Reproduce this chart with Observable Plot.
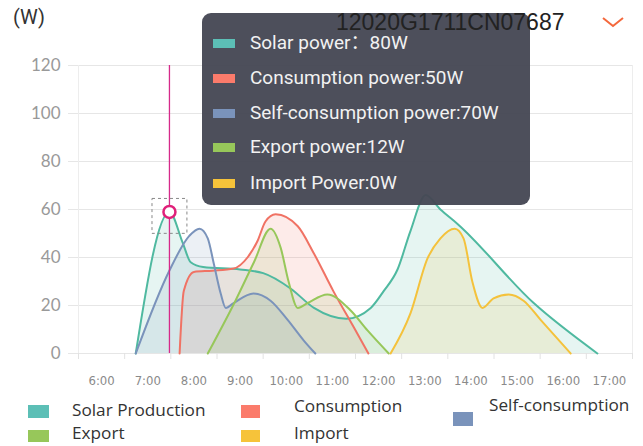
<!DOCTYPE html>
<html>
<head>
<meta charset="utf-8">
<script src="https://cdn.jsdelivr.net/npm/d3@7"></script>
<script src="https://cdn.jsdelivr.net/npm/@observablehq/plot@0.6"></script>
<style>
  html, body { margin: 0; padding: 0; background: #fff; }
  #wrap { position: relative; width: 643px; height: 446px; overflow: hidden; }
  #chart { position: absolute; left: 0; top: 0; }
  .abs { position: absolute; white-space: nowrap; }
  .tip { position: absolute; left: 202px; top: 13px; width: 328px; height: 192px; border-radius: 9px; background: rgba(70,72,84,0.96); }
  .tiprow { position: absolute; left: 0; height: 24px; line-height: 24px; font-family: Roboto, "Noto Sans CJK SC", sans-serif; font-size: 19px; color: #f2f2f2; white-space: nowrap; }
  .tiprow .sw { position: absolute; left: 11px; top: 8px; width: 22px; height: 9px; }
  .tiprow .tx { position: absolute; left: 48px; top: 0; }
  .leg { position: absolute; font-family: "Open Sans", sans-serif; font-size: 17.2px; color: #333; line-height: 14px; white-space: nowrap; }
  .legsw { position: absolute; }
</style>
</head>
<body>
<div id="wrap">
  <div id="chart"></div>
</div>
<script>
// ---- data ----
const seriesNames = ["Solar Production", "Consumption", "Self-consumption", "Export", "Import"];
const seriesColors = ["#4fb9a0", "#f07264", "#7a93bb", "#97c75a", "#f4c23c"];
const legendColors = ["#5cbfb6", "#fb7b6b", "#7a93bb", "#97c75a", "#f6c33a"];

const solarHours = [6.74, 7.47, 7.76, 7.93, 8.2, 9.0, 9.5, 10.1, 10.6, 11.3, 11.83, 12.11, 12.41, 12.69, 13.02, 13.34, 13.71, 15.36, 16.74];
const solarValues = [0, 59, 46, 38, 36, 35, 33.5, 27, 19, 14.5, 19, 26, 35, 51, 66, 60, 54, 21, 0];

const consHours = [7.69, 7.78, 8.0, 8.4, 8.86, 9.16, 9.38, 9.55, 9.77, 10.25, 10.59, 11.02, 11.46, 11.78];
const consValues = [0, 26, 34, 34.5, 35.4, 40, 47, 55, 58, 53, 42, 26, 11, 0];

const selfHours = [6.74, 7.47, 7.9, 8.12, 8.3, 8.43, 8.58, 8.69, 8.86, 9.29, 9.66, 10.03, 10.38, 10.63];
const selfValues = [0, 34.6, 49, 52, 48, 37.5, 25, 19, 21, 25, 22, 14, 5.4, 0];

const exportHours = [8.3, 8.9, 9.3, 9.66, 9.88, 10.05, 10.25, 10.46, 10.89, 11.39, 11.76, 12.22];
const exportValues = [0, 22, 38, 52, 44, 30, 19, 21, 24.6, 18, 9.6, 0];

const importHours = [12.26, 12.69, 13.06, 13.34, 13.65, 13.84, 14.03, 14.25, 14.49, 14.82, 15.14, 15.51, 16.16];
const importValues = [0, 16.7, 39.6, 48, 52, 48, 30, 19, 23, 24.6, 22, 14, 0];

const xTickHours = [6, 7, 8, 9, 10, 11, 12, 13, 14, 15, 16, 17];
const xTickLabels = ["6:00", "7:00", "8:00", "9:00", "10:00", "11:00", "12:00", "13:00", "14:00", "15:00", "16:00", "17:00"];
const yTicks = [0, 20, 40, 60, 80, 100, 120];

const cursorIndex = 1; // solar point under the cursor
const tooltipLabels = ["Solar power：80W", "Consumption power:50W", "Self-consumption power:70W", "Export power:12W", "Import Power:0W"];
const titleUnit = "(W)";
const deviceId = "12020G1711CN07687";

// ---- build tables ----
const toRows = (hs, vs) => hs.map((h, i) => ({h, v: vs[i]}));
const series = [
  toRows(solarHours, solarValues),
  toRows(consHours, consValues),
  toRows(selfHours, selfValues),
  toRows(exportHours, exportValues),
  toRows(importHours, importValues)
];
const edges = xTickHours.map(h => h - 0.5).concat([xTickHours[xTickHours.length - 1] + 0.5]);
const cursor = [series[0][cursorIndex]];

const marks = [
  Plot.gridY(yTicks, {stroke: "#e6e6e6", strokeOpacity: 1}),
  Plot.ruleX([edges[0], edges[edges.length - 1]], {stroke: "#ededed"}),
  Plot.axisY({ticks: yTicks, label: null, tickSize: 10, tickPadding: 8, stroke: "#e6e6e6", fill: "#999", fontSize: 17, fontFamily: "Lato, sans-serif"}),
  Plot.axisX({ticks: edges, label: null, tickSize: 6, tickFormat: () => "", stroke: "#e2e2e2"}),
  Plot.axisX({ticks: xTickHours, label: null, tickSize: 0, tickPadding: 22, tickFormat: d => xTickLabels[xTickHours.indexOf(d)], fill: "#8a8a8a", fontSize: 13, fontFamily: "DejaVu Sans Condensed, sans-serif"})
];
series.forEach((rows, k) => {
  marks.push(Plot.areaY(rows, {x: "h", y: "v", fill: seriesColors[k], fillOpacity: 0.14, curve: "monotone-x"}));
});
series.forEach((rows, k) => {
  marks.push(Plot.line(rows, {x: "h", y: "v", stroke: seriesColors[k], strokeWidth: 2, curve: "monotone-x"}));
});
marks.push(Plot.ruleX(cursor, {x: "h", stroke: "#d62a8a", strokeWidth: 1.3}));
marks.push(Plot.dot(cursor, {x: "h", y: "v", symbol: "square", r: 19.7, dy: 4, fill: "none", stroke: "#888", strokeWidth: 1, strokeDasharray: "3,3"}));
marks.push(Plot.dot(cursor, {x: "h", y: "v", r: 6, fill: "white", stroke: "#e0207a", strokeWidth: 2.5}));

const chart = Plot.plot({
  width: 643,
  height: 446,
  marginLeft: 78,
  marginRight: 11,
  marginTop: 65,
  marginBottom: 93,
  x: {domain: [edges[0], edges[edges.length - 1]], axis: null, label: null},
  y: {domain: [0, 120], axis: null, label: null},
  style: {background: "transparent", overflow: "visible"},
  marks
});
document.getElementById("chart").appendChild(chart);

// ---- overlays: title, tooltip, header id, legend ----
const wrap = document.getElementById("wrap");
function el(tag, cls, css, text) {
  const e = document.createElement(tag);
  if (cls) e.className = cls;
  Object.assign(e.style, css || {});
  if (text != null) e.textContent = text;
  return e;
}
wrap.appendChild(el("div", "abs", {left: "13px", top: "5px", fontFamily: "Roboto, sans-serif", fontSize: "20px", color: "#333"}, titleUnit));

const tip = el("div", "tip");
const rowTops = [18, 53, 88, 122, 158];
tooltipLabels.forEach((t, i) => {
  const r = el("div", "tiprow", {top: rowTops[i] + "px", width: "320px"});
  r.appendChild(el("div", "sw", {background: legendColors[i]}));
  r.appendChild(el("div", "tx", {}, t));
  tip.appendChild(r);
});
wrap.appendChild(tip);

wrap.appendChild(el("div", "abs", {left: "336px", top: "5px", fontFamily: "'Liberation Sans', Arial, sans-serif", fontSize: "23px", color: "#222", lineHeight: "34px"}, deviceId));
const ns = "http://www.w3.org/2000/svg";
const chev = document.createElementNS(ns, "svg");
chev.setAttribute("width", "30"); chev.setAttribute("height", "20");
Object.assign(chev.style, {position: "absolute", left: "598px", top: "12px"});
const pl = document.createElementNS(ns, "polyline");
pl.setAttribute("points", "5,6 15,14 25,6");
pl.setAttribute("fill", "none"); pl.setAttribute("stroke", "#f4683c"); pl.setAttribute("stroke-width", "2");
chev.appendChild(pl);
wrap.appendChild(chev);

// legend
const legPos = [
  {sx: 28, sy: 405, sw: 21, sh: 13, tx: 72, ty: 403},
  {sx: 241, sy: 405, sw: 19, sh: 13, tx: 294, ty: 399},
  {sx: 453, sy: 412, sw: 20, sh: 14, tx: 489, ty: 398},
  {sx: 28, sy: 430, sw: 21, sh: 12, tx: 72, ty: 426},
  {sx: 241, sy: 430, sw: 19, sh: 12, tx: 294, ty: 426}
];
seriesNames.forEach((n, i) => {
  const p = legPos[i];
  wrap.appendChild(el("div", "legsw", {left: p.sx + "px", top: p.sy + "px", width: p.sw + "px", height: p.sh + "px", background: legendColors[i]}));
  wrap.appendChild(el("div", "leg", {left: p.tx + "px", top: p.ty + "px"}, n));
});
</script>
</body>
</html>
